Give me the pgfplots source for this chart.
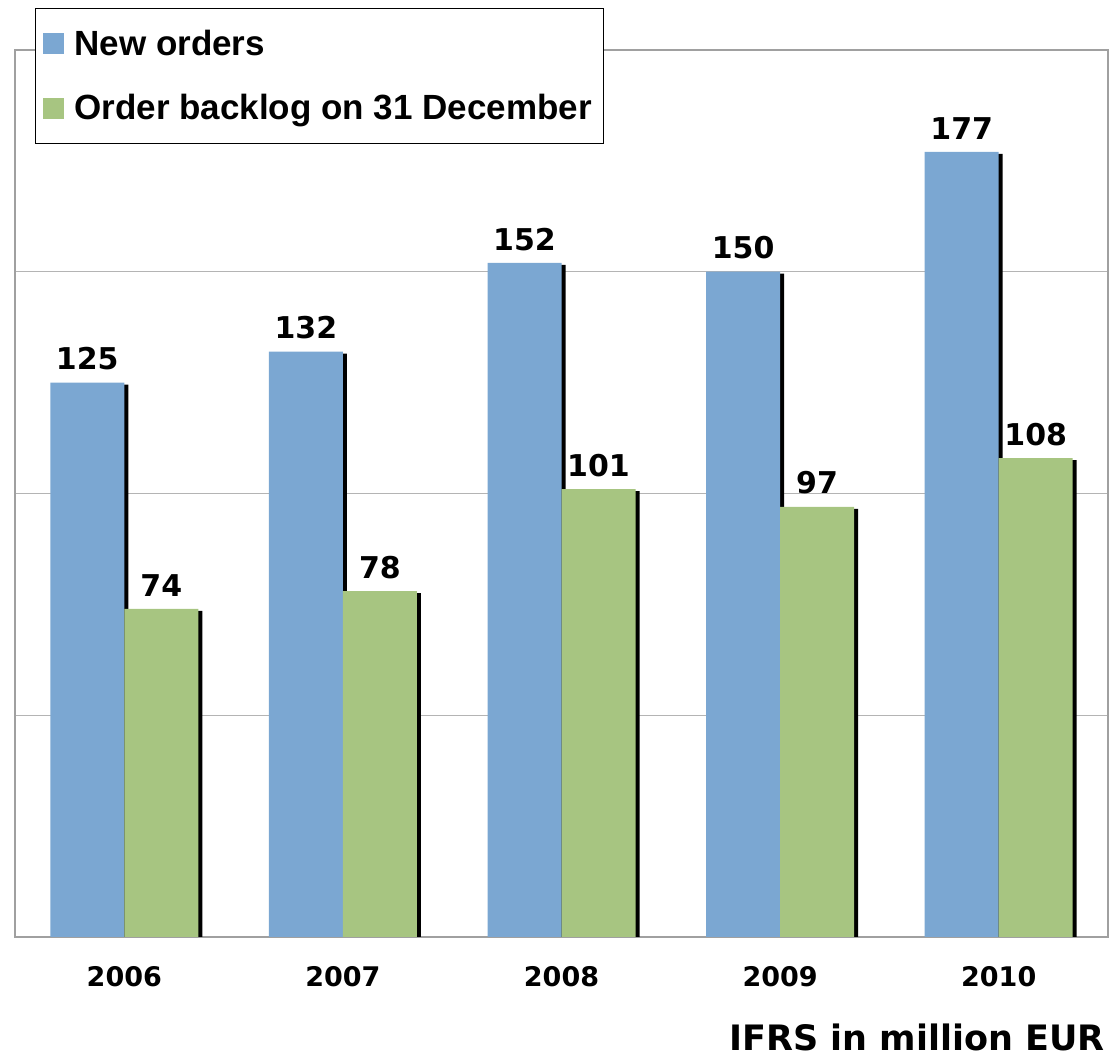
\documentclass[border=0pt]{standalone}
\usepackage{fontspec}
\setmainfont{DejaVu Sans}
\newfontfamily\legfont{Liberation Sans}
\usepackage{pgfplots}
\pgfplotsset{compat=1.18}
\usetikzlibrary{shadows}
\definecolor{barblue}{HTML}{7BA7D2}
\definecolor{bargreen}{HTML}{A7C581}
\definecolor{framegray}{HTML}{A0A0A0}
\definecolor{gridgray}{HTML}{B4B4B4}
\begin{document}
\begin{tikzpicture}
\begin{axis}[
  scale only axis, width=546.5pt, height=443.5pt,
  ybar, bar width=37pt,
  xmin=-0.5, xmax=4.5, ymin=0, ymax=200,
  xtick={0,1,2,3,4}, xticklabels={2006,2007,2008,2009,2010},
  xtick style={draw=none},
  ytick={50,100,150}, yticklabels={}, ytick style={draw=none},
  ymajorgrids, grid style={gridgray, line width=0.6pt},
  axis line style={framegray, line width=0.6pt},
  xticklabel style={font=\fontsize{13.5}{16}\selectfont\bfseries, yshift=-7pt},
  /pgf/number format/assume math mode=true,
  nodes near coords,
  every node near coord/.append style={font=\fontsize{15}{18}\selectfont\bfseries, text=black, inner sep=0pt, anchor=south, yshift=6pt},
  legend style={at={(axis description cs:0.0183,1.047)}, anchor=north west, draw=black, line width=0.5pt,
    font=\legfont\fontsize{17.5}{20}\selectfont\bfseries, inner xsep=4pt, inner ysep=8.5pt, row sep=14pt,
    /tikz/every even column/.append style={column sep=5pt}},
  legend cell align=left,
]
\addlegendimage{legend image code/.code={\fill[barblue] (0pt,-5pt) rectangle (10pt,5pt); \path (13pt,0pt);}}
\addlegendentry{New orders}
\addlegendimage{legend image code/.code={\fill[bargreen] (0pt,-5pt) rectangle (10pt,5pt); \path (13pt,0pt);}}
\addlegendentry{Order backlog on 31 December}
\addplot[forget plot, bar shift=-18.5pt, fill=barblue, draw=none, drop shadow={shadow xshift=2pt, shadow yshift=-1pt, fill=black, opacity=1}]
  coordinates {(0,125) (1,132) (2,152) (3,150) (4,177)};
\addplot[forget plot, bar shift=18.5pt, fill=bargreen, draw=none, drop shadow={shadow xshift=2pt, shadow yshift=-1pt, fill=black, opacity=1}]
  coordinates {(0,74) (1,78) (2,101) (3,97) (4,108)};
\end{axis}
\node[anchor=base east, font=\fontsize{17.5}{20}\selectfont\bfseries, inner sep=0pt] at (545pt,-57pt) {IFRS in million EUR};
\pgfresetboundingbox
\path (-7.5pt,-60.5pt) rectangle (548.5pt,468.5pt);
\end{tikzpicture}
\end{document}
